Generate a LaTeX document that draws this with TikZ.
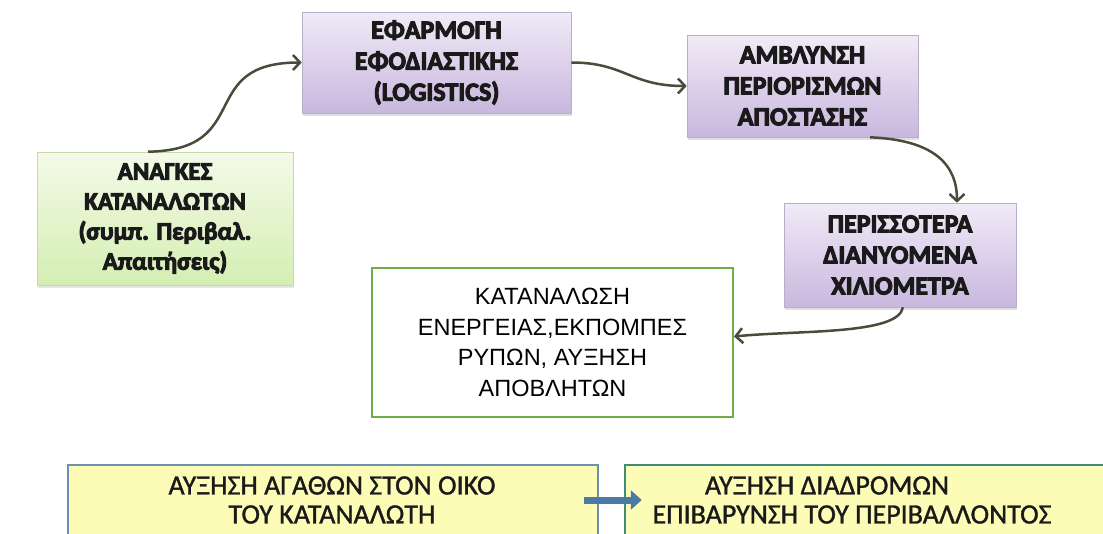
\documentclass[tikz,border=0pt]{standalone}
\usepackage{fontspec}
\newfontfamily\calheavy{Carlito}[BoldFeatures={FakeBold=4}]
\newfontfamily\calmed{Carlito}[FakeBold=1.2]
\newfontfamily\arlfont{Liberation Sans}
\usetikzlibrary{arrows.meta,shadows}
\definecolor{lavtop}{HTML}{F0EBF7}
\definecolor{lavbot}{HTML}{C9B7DE}
\definecolor{lavline}{HTML}{B9ADC9}
\definecolor{grntop}{HTML}{F4FAE8}
\definecolor{grnbot}{HTML}{D4EEB2}
\definecolor{grnline}{HTML}{C6DAAA}
\definecolor{katline}{HTML}{70AD47}
\definecolor{yel}{HTML}{FDFCB6}
\definecolor{lbline}{HTML}{6F8FAE}
\definecolor{rbline}{HTML}{3F8C7A}
\definecolor{barcol}{HTML}{4A7AA5}
\definecolor{conncol}{HTML}{4B4B3C}
\definecolor{txtcol}{HTML}{1A1A1A}
\tikzset{
  topbox/.style={draw=lavline, line width=0.6pt, top color=lavtop, bottom color=lavbot,
    inner sep=0pt, align=center, text=txtcol, font=\calheavy\bfseries\fontsize{26}{31}\selectfont,
    drop shadow={opacity=0.25, shadow xshift=1pt, shadow yshift=-3pt}},
  grnbox/.style={draw=grnline, line width=0.6pt, top color=grntop, bottom color=grnbot,
    inner sep=0pt, align=center, text=txtcol, font=\calheavy\bfseries\fontsize{25}{30}\selectfont,
    drop shadow={opacity=0.2, shadow xshift=1pt, shadow yshift=-3pt}},
  katbox/.style={draw=katline, line width=2pt, fill=white, inner sep=0pt, align=center,
    font=\arlfont\fontsize{23.5}{30.5}\selectfont},
  ybox/.style={fill=yel, line width=2.5pt, inner sep=0pt},
  ytext/.style={align=center, inner sep=0pt, text=txtcol, font=\calmed\fontsize{28}{29}\selectfont},
  conn/.style={draw=conncol, line width=2.5pt, -{Straight Barb[length=7pt,width=15pt]}},
  barrow/.style={draw=barcol, line width=7pt, -{Triangle[length=11pt,width=19pt]}}
}
\begin{document}
\begin{tikzpicture}[x=1pt,y=-1pt]
\useasboundingbox (0,0) rectangle (1103,533);
\clip (0,0) rectangle (1103,533);
\fill[white] (0,0) rectangle (1103,533);
% boxes
\node[grnbox, minimum width=256pt, minimum height=133pt] (anag) at (165,218.5)
  {ΑΝΑΓΚΕΣ\\ΚΑΤΑΝΑΛΩΤΩΝ\\(συμπ. Περιβαλ.\\Απαιτήσεις)};
\node[topbox, minimum width=269pt, minimum height=101pt] (efar) at (436.5,62.5)
  {ΕΦΑΡΜΟΓΗ\\ΕΦΟΔΙΑΣΤΙΚΗΣ\\(LOGISTICS)};
\node[topbox, minimum width=231pt, minimum height=102pt] (ambl) at (802.5,86)
  {ΑΜΒΛΥΝΣΗ\\ΠΕΡΙΟΡΙΣΜΩΝ\\ΑΠΟΣΤΑΣΗΣ};
\node[topbox, minimum width=232pt, minimum height=104pt] (peri) at (900,255)
  {ΠΕΡΙΣΣΟΤΕΡΑ\\ΔΙΑΝΥΟΜΕΝΑ\\ΧΙΛΙΟΜΕΤΡΑ};
\node[katbox, minimum width=361pt, minimum height=149pt] (kat) at (552.5,342.5)
  {ΚΑΤΑΝΑΛΩΣΗ\\ΕΝΕΡΓΕΙΑΣ,ΕΚΠΟΜΠΕΣ\\ΡΥΠΩΝ, ΑΥΞΗΣΗ\\ΑΠΟΒΛΗΤΩΝ};
% bottom boxes
\node[ybox, draw=lbline, minimum width=530pt, minimum height=70pt] (lb) at (333,500) {};
\node[ybox, draw=rbline, minimum width=485pt, minimum height=70pt] (rb) at (867.5,500) {};
\node[ytext] (lbt) at (332,500) {ΑΥΞΗΣΗ ΑΓΑΘΩΝ ΣΤΟΝ ΟΙΚΟ\\ΤΟΥ ΚΑΤΑΝΑΛΩΤΗ};
\node[ytext] (rbt) at (852,500) {ΑΥΞΗΣΗ ΔΙΑΔΡΟΜΩΝ\hspace*{50pt}\\ΕΠΙΒΑΡΥΝΣΗ ΤΟΥ ΠΕΡΙΒΑΛΛΟΝΤΟΣ};
% connectors
\draw[conn] ([xshift=-17pt]anag.north) .. controls (255,150) and (195,62.5) .. (efar.west);
\draw[conn] (efar.east) .. controls (625,62.5) and (630,86) .. (ambl.west);
\draw[conn] ([xshift=67.5pt]ambl.south) .. controls (935,140) and (957,165) .. ([xshift=57pt]peri.north);
\draw[conn] ([xshift=3pt]peri.south) .. controls (898,335) and (800,330) .. ([yshift=6pt]kat.east);
\draw[barrow] ([xshift=-15pt]lb.east) -- ([xshift=18pt]rb.west);
\end{tikzpicture}
\end{document}
